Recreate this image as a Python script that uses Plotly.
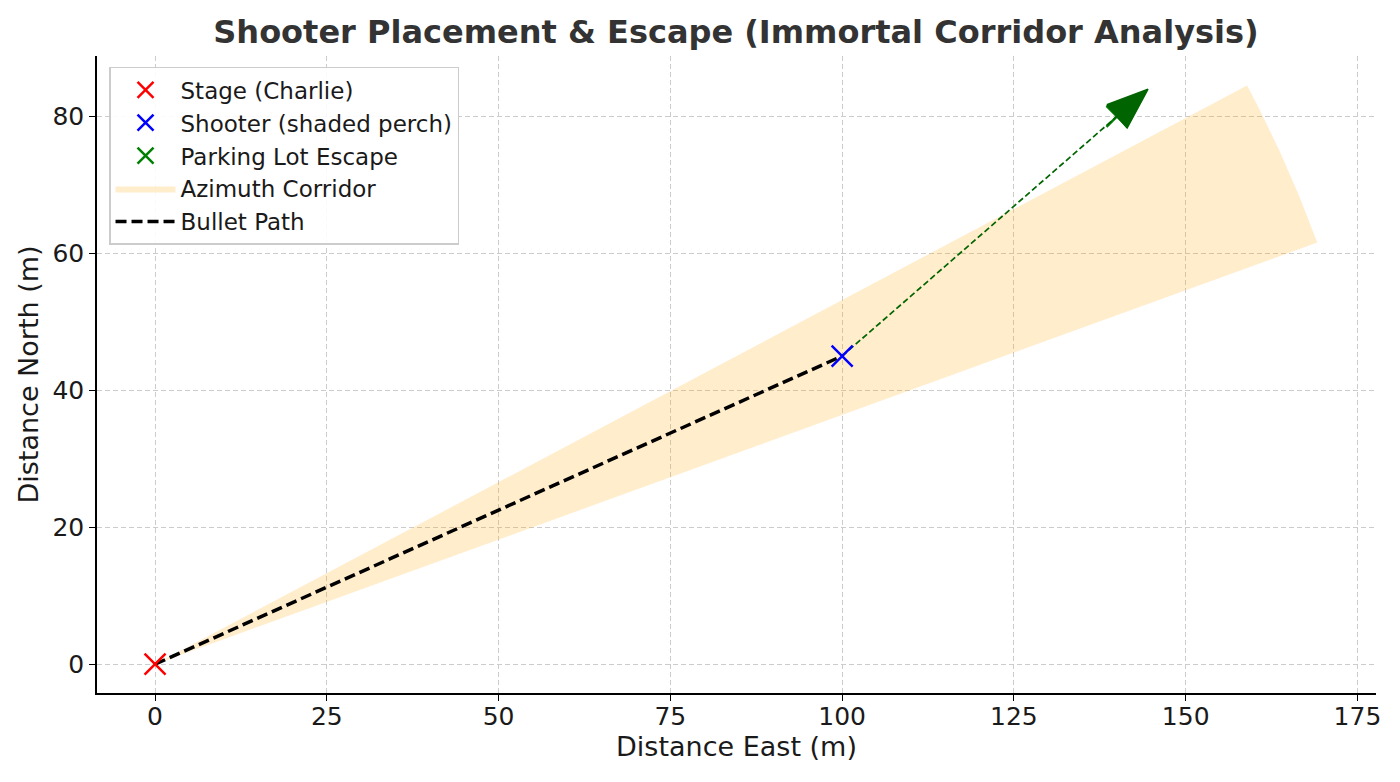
import numpy as np
import plotly.graph_objects as go

# Positions (m east, m north)
stage_xy = [0, 0]
shooter_xy = [100, 45]
escape_xy = [140, 80]

# Azimuth corridor: angles from east (deg) and reach (m)
corridor_angles = [20, 28]
corridor_radius = 180

# Escape arrow head size
head_length = 6
head_width = 4.5

x_ticks = [0, 25, 50, 75, 100, 125, 150, 175]
y_ticks = [0, 20, 40, 60, 80]

# Build corridor wedge
theta = np.radians(np.linspace(corridor_angles[0], corridor_angles[1], 40))
wedge_x = [0] + list(corridor_radius * np.cos(theta)) + [0]
wedge_y = [0] + list(corridor_radius * np.sin(theta)) + [0]

# Arrow head triangle
d = np.array(escape_xy, dtype=float) - np.array(shooter_xy, dtype=float)
u = d / np.linalg.norm(d)
n = np.array([-u[1], u[0]])
base = np.array(escape_xy, dtype=float)
tip = base + u * head_length
c1 = base + n * head_width / 2
c2 = base - n * head_width / 2
head_x = [c1[0], tip[0], c2[0], c1[0]]
head_y = [c1[1], tip[1], c2[1], c1[1]]

fig = go.Figure()

fig.add_trace(go.Scatter(
    x=wedge_x, y=wedge_y, mode='lines', fill='toself',
    fillcolor='rgba(255,165,0,0.2)', line=dict(width=0),
    name='Azimuth Corridor', legendrank=4
))

fig.add_trace(go.Scatter(
    x=[stage_xy[0], shooter_xy[0]], y=[stage_xy[1], shooter_xy[1]],
    mode='lines', line=dict(color='black', width=3.5, dash='11px,5px'),
    name='Bullet Path', legendrank=5
))

fig.add_trace(go.Scatter(
    x=[escape_xy[0]], y=[escape_xy[1]], mode='markers',
    marker=dict(symbol='x-thin', size=21, color='green', line=dict(color='green', width=2.5)),
    name='Parking Lot Escape', legendrank=3
))

fig.add_trace(go.Scatter(
    x=[shooter_xy[0], escape_xy[0]], y=[shooter_xy[1], escape_xy[1]],
    mode='lines', line=dict(color='darkgreen', width=1.7, dash='6px,3px'),
    showlegend=False
))

fig.add_trace(go.Scatter(
    x=head_x, y=head_y, mode='lines', fill='toself',
    fillcolor='darkgreen', line=dict(color='darkgreen', width=1.5),
    showlegend=False
))

fig.add_trace(go.Scatter(
    x=[stage_xy[0]], y=[stage_xy[1]], mode='markers',
    marker=dict(symbol='x-thin', size=21, color='red', line=dict(color='red', width=2.5)),
    name='Stage (Charlie)', legendrank=1
))

fig.add_trace(go.Scatter(
    x=[shooter_xy[0]], y=[shooter_xy[1]], mode='markers',
    marker=dict(symbol='x-thin', size=21, color='blue', line=dict(color='blue', width=2.5)),
    name='Shooter (shaded perch)', legendrank=2
))

axis_common = dict(
    showgrid=True, gridcolor='#cccccc', griddash='5px,3px', gridwidth=1,
    zeroline=False, showline=True, linecolor='black', linewidth=1.5,
    ticks='outside', ticklen=6, tickwidth=1.3, tickcolor='black',
    tickfont=dict(size=25, color='#1a1a1a'),
    mirror=False
)

fig.update_layout(
    width=1400, height=782,
    plot_bgcolor='white', paper_bgcolor='white',
    font=dict(family='DejaVu Sans', color='#1a1a1a'),
    title=dict(
        text='<b>Shooter Placement & Escape (Immortal Corridor Analysis)</b>',
        x=0.52, xanchor='center',
        y=0.97, yanchor='middle',
        font=dict(size=32, color='#333333')
    ),
    xaxis=dict(axis_common, range=[-8.45, 177.7], tickvals=x_ticks,
               ticklabelstandoff=-6,
               title=dict(text='Distance East (m)', font=dict(size=27), standoff=6)),
    yaxis=dict(axis_common, range=[-4.2, 88.8], tickvals=y_ticks,
               title=dict(text='Distance North (m)', font=dict(size=27), standoff=6)),
    legend=dict(
        x=0.0094, y=0.983, xanchor='left', yanchor='top',
        bgcolor='rgba(255,255,255,0.9)', bordercolor='#cccccc', borderwidth=1.5,
        font=dict(size=23, color='#1a1a1a'), itemwidth=60
    ),
    margin=dict(l=89, r=32, t=48, b=97),
    showlegend=True
)

fig.write_html("out.html")
